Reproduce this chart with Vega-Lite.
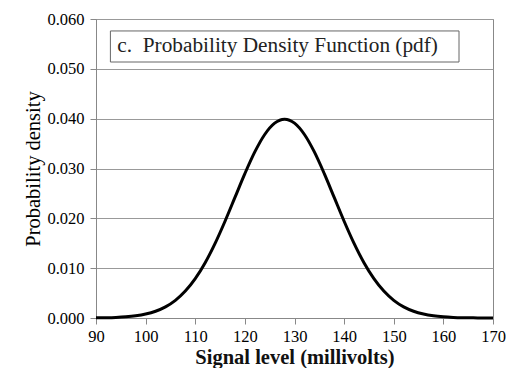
{
  "$schema": "https://vega.github.io/schema/vega-lite/v6.json",
  "autosize": {"type": "none"},
  "padding": {"left": 96, "top": 19, "right": 14, "bottom": 50},
  "width": 397,
  "height": 299,
  "background": "white",
  "config": {
    "view": {"stroke": "#888888", "strokeWidth": 1},
    "font": "Liberation Serif"
  },
  "layer": [
    {
      "data": {
        "values": [
          {"x": 90, "y": 0.0000292}, {"x": 92, "y": 0.0000612}, {"x": 94, "y": 0.000123},
          {"x": 96, "y": 0.000238}, {"x": 98, "y": 0.000443}, {"x": 100, "y": 0.000792},
          {"x": 102, "y": 0.001358}, {"x": 104, "y": 0.002239}, {"x": 106, "y": 0.003547},
          {"x": 108, "y": 0.005399}, {"x": 110, "y": 0.007895}, {"x": 112, "y": 0.011092},
          {"x": 114, "y": 0.014973}, {"x": 116, "y": 0.019419}, {"x": 118, "y": 0.024197},
          {"x": 120, "y": 0.028969}, {"x": 122, "y": 0.033322}, {"x": 124, "y": 0.036827},
          {"x": 126, "y": 0.039104}, {"x": 128, "y": 0.039894}, {"x": 130, "y": 0.039104},
          {"x": 132, "y": 0.036827}, {"x": 134, "y": 0.033322}, {"x": 136, "y": 0.028969},
          {"x": 138, "y": 0.024197}, {"x": 140, "y": 0.019419}, {"x": 142, "y": 0.014973},
          {"x": 144, "y": 0.011092}, {"x": 146, "y": 0.007895}, {"x": 148, "y": 0.005399},
          {"x": 150, "y": 0.003547}, {"x": 152, "y": 0.002239}, {"x": 154, "y": 0.001358},
          {"x": 156, "y": 0.000792}, {"x": 158, "y": 0.000443}, {"x": 160, "y": 0.000238},
          {"x": 162, "y": 0.000123}, {"x": 164, "y": 0.0000612}, {"x": 166, "y": 0.0000292},
          {"x": 168, "y": 0.0000133}, {"x": 170, "y": 0.0000058}
        ]
      },
      "mark": {"type": "line", "color": "black", "strokeWidth": 3, "interpolate": "monotone"},
      "encoding": {
        "x": {
          "field": "x", "type": "quantitative",
          "scale": {"domain": [90, 170], "nice": false, "zero": false},
          "axis": {
            "values": [90, 100, 110, 120, 130, 140, 150, 160, 170],
            "grid": false, "labelFlush": false,
            "title": "Signal level (millivolts)",
            "titleFont": "Liberation Serif", "titleFontSize": 20.5, "titleFontWeight": "bold",
            "titleColor": "#111111", "titlePadding": 3,
            "labelFont": "Liberation Serif", "labelFontSize": 16.5, "labelColor": "black",
            "labelPadding": 4,
            "domainColor": "#888888", "tickColor": "#888888", "tickSize": 6
          }
        },
        "y": {
          "field": "y", "type": "quantitative",
          "scale": {"domain": [0, 0.06], "nice": false},
          "axis": {
            "values": [0, 0.01, 0.02, 0.03, 0.04, 0.05, 0.06],
            "format": ".3f",
            "grid": true, "gridColor": "#999999", "gridOpacity": 1, "labelFlush": false,
            "title": "Probability density",
            "titleFont": "Liberation Serif", "titleFontSize": 20.5, "titleFontWeight": "normal",
            "titleColor": "black", "titlePadding": 3,
            "labelFont": "Liberation Serif", "labelFontSize": 16.5, "labelColor": "black",
            "labelPadding": 6,
            "domainColor": "#888888", "tickColor": "#888888", "tickSize": 6
          }
        }
      }
    },
    {
      "data": {"values": [{"label": "c.\u00a0\u00a0Probability Density Function (pdf)"}]},
      "mark": {"type": "rect", "fill": "white", "stroke": "#666666", "strokeWidth": 1},
      "encoding": {
        "x": {"datum": 92.9, "type": "quantitative"},
        "x2": {"datum": 163.15},
        "y": {"datum": 0.0576, "type": "quantitative"},
        "y2": {"datum": 0.05137}
      }
    },
    {
      "data": {"values": [{"label": "c.\u00a0\u00a0Probability Density Function (pdf)"}]},
      "mark": {"type": "text", "align": "left", "baseline": "middle", "font": "Liberation Serif", "fontSize": 21.3, "fill": "#222222"},
      "encoding": {
        "text": {"field": "label"},
        "x": {"datum": 94.3, "type": "quantitative"},
        "y": {"datum": 0.0545, "type": "quantitative"}
      }
    }
  ]
}
